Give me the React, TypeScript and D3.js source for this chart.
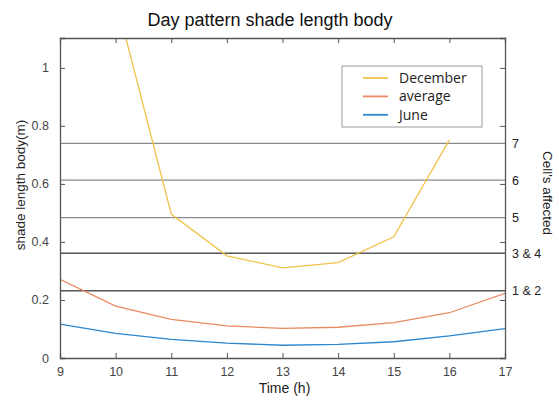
import React, { useRef, useEffect } from 'react';
import * as d3 from 'd3';

// hours on the x axis
const hours = [9, 10, 11, 12, 13, 14, 15, 16, 17];
// December starts at 10h and ends at 16h
const decemberHours = [10, 11, 12, 13, 14, 15, 16];
const december = [1.24, 0.496, 0.352, 0.311, 0.329, 0.418, 0.752];
const average = [0.271, 0.179, 0.133, 0.111, 0.102, 0.106, 0.122, 0.156, 0.223];
const june = [0.117, 0.085, 0.064, 0.051, 0.044, 0.047, 0.056, 0.076, 0.101];

// reference levels (cells affected)
const cellLevels = [0.74, 0.613, 0.484, 0.361, 0.232];
const cellLabels = ['7', '6', '5', '3 & 4', '1 & 2'];

const yTicks = [0, 0.2, 0.4, 0.6, 0.8, 1];

const seriesNames = ['December', 'average', 'June'];
const seriesColors = ['#f1c24a', '#ea8a62', '#2b87cf'];

const App = () => {
    const svgRef = useRef<SVGSVGElement>(null);

    useEffect(() => {
        const width = 559, height = 400;
        const svg = d3.select(svgRef.current)
            .attr('width', width)
            .attr('height', height);
        svg.selectAll('*').remove();

        const margin = { top: 38, right: 54, bottom: 42, left: 60 };
        const innerWidth = width - margin.left - margin.right;
        const innerHeight = height - margin.top - margin.bottom;
        const font = '"Liberation Sans", Arial, sans-serif';

        const g = svg.append('g')
            .attr('transform', `translate(${margin.left},${margin.top})`);

        const x = d3.scaleLinear().domain([9, 17]).range([0, innerWidth]);
        const y = d3.scaleLinear().domain([0, 1.103]).range([innerHeight, 0]);

        g.append('clipPath').attr('id', 'plot-clip')
            .append('rect').attr('width', innerWidth).attr('height', innerHeight);

        // cell level lines
        g.selectAll('.level')
            .data(cellLevels)
            .enter()
            .append('line')
            .attr('x1', 0).attr('x2', innerWidth)
            .attr('y1', d => y(d)).attr('y2', d => y(d))
            .attr('stroke', (d, i) => i >= 3 ? '#555' : '#8a8a8a')
            .attr('stroke-width', (d, i) => i >= 3 ? 1.6 : 1.2);

        // series
        const line = d3.line<[number, number]>()
            .x(d => x(d[0]))
            .y(d => y(d[1]));

        const data: [number, number][][] = [
            decemberHours.map((h, i) => [h, december[i]]),
            hours.map((h, i) => [h, average[i]]),
            hours.map((h, i) => [h, june[i]]),
        ];

        g.append('g').attr('clip-path', 'url(#plot-clip)')
            .selectAll('path')
            .data(data)
            .enter()
            .append('path')
            .attr('d', d => line(d))
            .attr('fill', 'none')
            .attr('stroke', (d, i) => seriesColors[i])
            .attr('stroke-width', 1.3);

        // axes box
        const axisColor = '#555';
        const bottom = g.append('g')
            .attr('transform', `translate(0,${innerHeight})`)
            .call(d3.axisBottom(x).ticks(8).tickSize(-5).tickPadding(9).tickFormat(d3.format('d')));
        const top = g.append('g')
            .call(d3.axisTop(x).ticks(8).tickSize(-5).tickFormat(() => ''));
        const left = g.append('g')
            .call(d3.axisLeft(y).tickValues(yTicks).tickSize(-5).tickPadding(11).tickFormat(d3.format('')));
        const right = g.append('g')
            .attr('transform', `translate(${innerWidth},0)`)
            .call(d3.axisRight(y).tickValues(yTicks).tickSize(-5).tickFormat(() => ''));

        [bottom, top, left, right].forEach(a => {
            a.select('.domain').attr('stroke', axisColor).attr('stroke-width', 1.3);
            a.selectAll('.tick line').attr('stroke', axisColor);
            a.selectAll('.tick text')
                .attr('fill', '#444')
                .style('font-family', font)
                .style('font-size', '12.5px');
        });

        // right labels for cell levels
        g.selectAll('.cell-label')
            .data(cellLevels)
            .enter()
            .append('text')
            .attr('x', innerWidth + 7)
            .attr('y', d => y(d))
            .attr('dy', '0.35em')
            .attr('fill', '#222')
            .style('font-family', font)
            .style('font-size', '12.5px')
            .text((d, i) => cellLabels[i]);

        // title
        svg.append('text')
            .attr('x', 270).attr('y', 26)
            .attr('text-anchor', 'middle')
            .attr('fill', '#111')
            .style('font-family', font)
            .style('font-size', '18px')
            .text('Day pattern shade length body');

        // axis labels
        svg.append('text')
            .attr('x', margin.left + innerWidth / 2 + 2).attr('y', 393)
            .attr('text-anchor', 'middle')
            .attr('fill', '#222')
            .style('font-family', font)
            .style('font-size', '14px')
            .text('Time (h)');

        svg.append('text')
            .attr('transform', `translate(25,185) rotate(-90)`)
            .attr('text-anchor', 'middle')
            .attr('fill', '#222')
            .style('font-family', font)
            .style('font-size', '13.5px')
            .text('shade length body(m)');

        svg.append('text')
            .attr('transform', `translate(543,193) rotate(90)`)
            .attr('text-anchor', 'middle')
            .attr('fill', '#222')
            .style('font-family', font)
            .style('font-size', '13.5px')
            .text("Cell's affected");

        // legend
        const legend = g.append('g').attr('transform', `translate(${282},${28})`);
        legend.append('rect')
            .attr('width', 140).attr('height', 61)
            .attr('fill', '#fff')
            .attr('stroke', '#999');
        seriesNames.forEach((name, i) => {
            const ly = 12 + i * 18.4;
            legend.append('line')
                .attr('x1', 21).attr('x2', 46)
                .attr('y1', ly).attr('y2', ly)
                .attr('stroke', seriesColors[i])
                .attr('stroke-width', 1.8);
            legend.append('text')
                .attr('x', 57).attr('y', ly)
                .attr('dy', '0.35em')
                .attr('fill', '#222')
                .style('font-family', '"Open Sans", sans-serif')
                .style('font-size', '14px')
                .text(name);
        });
    }, []);

    return <svg ref={svgRef} style={{ position: 'absolute', left: 0, top: 0 }}></svg>;
};

export default App;
